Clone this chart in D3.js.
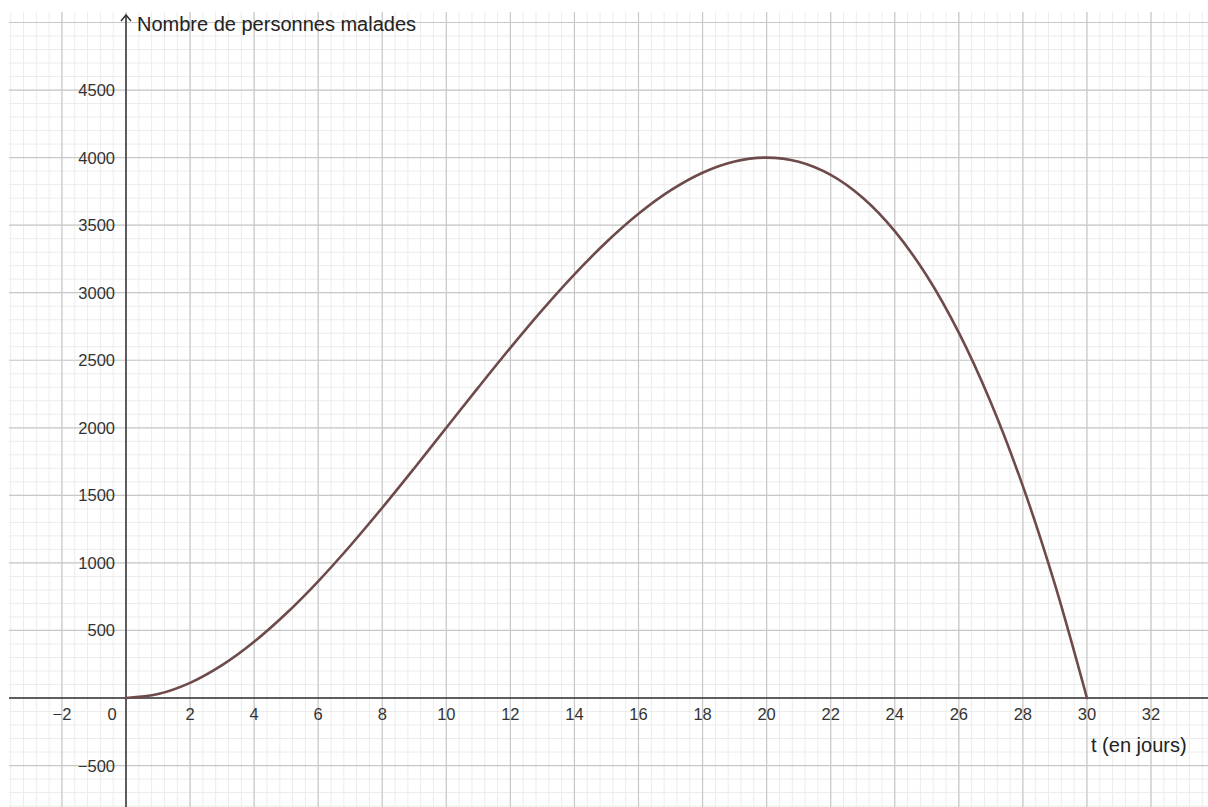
<!DOCTYPE html>
<html>
  <head>
    <meta charset="utf-8">
    <title></title>
    <style>
      body {
        margin: 0;
        background: #fff;
        font-family: "Liberation Sans", Arial, sans-serif;
      }
      svg {
        display: block;
      }
      .minor line {
        stroke: #ececec;
        stroke-width: 1;
      }
      .major line {
        stroke: #c8c8c8;
        stroke-width: 1.2;
      }
      .ticklabel {
        font-size: 16.5px;
        fill: #333;
      }
      .axistitle {
        font-size: 20px;
        fill: #222;
      }
    </style>
  </head>
  <body>
    <div id="chart"></div>
    <script src="https://cdn.jsdelivr.net/npm/d3@7"></script>
    <script>

      // t (days) and number of sick people
      let days = [0, 1, 2, 3, 4, 5, 6, 7, 8, 9, 10, 11, 12, 13, 14, 15, 16, 17, 18, 19, 20,
                  21, 22, 23, 24, 25, 26, 27, 28, 29, 30];
      let sick = [0, 29, 112, 243, 416, 625, 864, 1127, 1408, 1701, 2000, 2299, 2592, 2873,
                  3136, 3375, 3584, 3757, 3888, 3971, 4000, 3969, 3872, 3703, 3456, 3125,
                  2704, 2187, 1568, 841, 0];

      let xTicks = [-2, 0, 2, 4, 6, 8, 10, 12, 14, 16, 18, 20, 22, 24, 26, 28, 30, 32];
      let yTicks = [-500, 500, 1000, 1500, 2000, 2500, 3000, 3500, 4000, 4500];

      let xTitle = 't (en jours)';
      let yTitle = 'Nombre de personnes malades';

      let W = 1208, H = 807;
      let gridLeft = 9, gridTop = 12;

      let x = d3.scaleLinear().domain([0, 32]).range([126, 1151]);
      let y = d3.scaleLinear().domain([0, 5000]).range([698, 22.5]);

      let xMin = x.invert(gridLeft), xMax = x.invert(W);
      let yMin = y.invert(H), yMax = y.invert(gridTop);

      let svg = d3.select('#chart').append('svg')
        .attr('width', W)
        .attr('height', H);

      let fmt = v => v < 0 ? '\u2212' + Math.abs(v) : String(v);

      // grid
      let minorX = d3.range(Math.ceil(xMin / 0.4), Math.floor(xMax / 0.4) + 1).map(i => i * 0.4);
      let minorY = d3.range(Math.ceil(yMin / 100), Math.floor(yMax / 100) + 1).map(i => i * 100);
      let majorX = d3.range(Math.ceil(xMin / 2), Math.floor(xMax / 2) + 1).map(i => i * 2);
      let majorY = d3.range(Math.ceil(yMin / 500), Math.floor(yMax / 500) + 1).map(i => i * 500);

      let minor = svg.append('g').attr('class', 'minor');
      minor.selectAll('.vx').data(minorX).join('line')
        .attr('x1', d => x(d)).attr('x2', d => x(d))
        .attr('y1', gridTop).attr('y2', H);
      minor.selectAll('.hy').data(minorY).join('line')
        .attr('x1', gridLeft).attr('x2', W)
        .attr('y1', d => y(d)).attr('y2', d => y(d));

      let major = svg.append('g').attr('class', 'major');
      major.selectAll('.vx').data(majorX).join('line')
        .attr('x1', d => x(d)).attr('x2', d => x(d))
        .attr('y1', gridTop).attr('y2', H);
      major.selectAll('.hy').data(majorY).join('line')
        .attr('x1', gridLeft).attr('x2', W)
        .attr('y1', d => y(d)).attr('y2', d => y(d));

      // axes
      let axes = svg.append('g').attr('stroke', '#333').attr('stroke-width', 1.5).attr('fill', 'none');
      axes.append('line')
        .attr('x1', gridLeft).attr('x2', W)
        .attr('y1', y(0)).attr('y2', y(0));
      axes.append('line')
        .attr('x1', x(0)).attr('x2', x(0))
        .attr('y1', gridTop + 3).attr('y2', H);
      axes.append('path')
        .attr('d', 'M' + (x(0) - 5) + ',' + (gridTop + 9) + 'L' + x(0) + ',' + (gridTop + 3) + 'L' + (x(0) + 5) + ',' + (gridTop + 9));

      // tick labels
      svg.append('g').selectAll('text').data(xTicks).join('text')
        .attr('class', 'ticklabel')
        .attr('x', d => d === 0 ? x(d) - 14 : x(d))
        .attr('y', y(0) + 22)
        .attr('text-anchor', 'middle')
        .text(fmt);

      svg.append('g').selectAll('text').data(yTicks).join('text')
        .attr('class', 'ticklabel')
        .attr('x', x(0) - 11)
        .attr('y', d => y(d) + 6)
        .attr('text-anchor', 'end')
        .text(fmt);

      svg.append('text')
        .attr('class', 'axistitle')
        .attr('x', x(0) + 11)
        .attr('y', 31)
        .text(yTitle);

      svg.append('text')
        .attr('class', 'axistitle')
        .attr('x', 1091)
        .attr('y', 752)
        .text(xTitle);

      // curve
      let line = d3.line()
        .x((d, i) => x(days[i]))
        .y(d => y(d))
        .curve(d3.curveCatmullRom.alpha(0.5));

      svg.append('path')
        .datum(sick)
        .attr('fill', 'none')
        .attr('stroke', '#6e4a4a')
        .attr('stroke-width', 2.6)
        .attr('stroke-linecap', 'round')
        .attr('d', line);

    </script>
  </body>
</html>
